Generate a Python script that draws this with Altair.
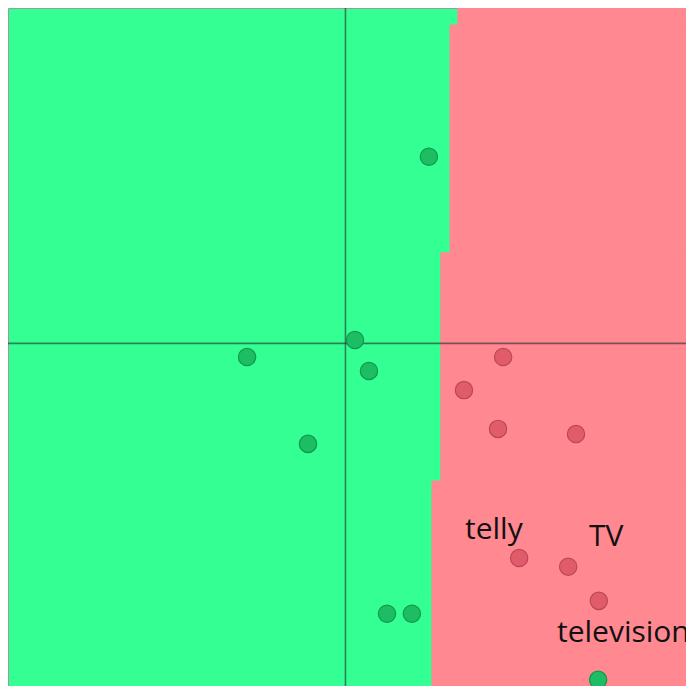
import altair as alt
import pandas as pd

# Points (data coordinates, axes cross at 0)
green_x = [0.245, 0.028, -0.289, 0.069, -0.110, 0.122, 0.195, 0.742]
green_y = [0.548, 0.010, -0.040, -0.081, -0.295, -0.794, -0.794, -0.988]
red_x = [0.463, 0.348, 0.448, 0.677, 0.510, 0.654, 0.744]
red_y = [-0.040, -0.137, -0.251, -0.266, -0.630, -0.656, -0.756]

# Labels
label_text = ["telly", "TV", "television"]
label_x = [0.351, 0.715, 0.621]
label_y = [-0.574, -0.596, -0.877]

# Decision boundary (stepped): band bottom, band top, boundary x
band_y1 = [0.935, 0.266, -0.404, -1.05]
band_y2 = [1.05, 0.935, 0.266, -0.404]
band_bx = [0.330, 0.307, 0.280, 0.254]

X_DOM = [-0.991, 1.0]
Y_DOM = [-1.006, 0.985]

xs = alt.Scale(domain=X_DOM, nice=False, zero=False)
ys = alt.Scale(domain=Y_DOM, nice=False, zero=False)

GREEN_BG = "#33FF93"
RED_BG = "#FF8891"

bands = pd.DataFrame({
    "y1": band_y1,
    "y2": band_y2,
    "x1": band_bx,
    "x2": [1.05] * 4,
})

bg = alt.Chart(bands).mark_rect(clip=True, fill=RED_BG, stroke=RED_BG, strokeWidth=1).encode(
    x=alt.X("x1:Q", scale=xs, axis=None),
    x2="x2:Q",
    y=alt.Y("y1:Q", scale=ys, axis=None),
    y2="y2:Q",
)

axes_df = pd.DataFrame({"v": [0.0]})
vrule = alt.Chart(axes_df).mark_rule(color="#2b2b2b", opacity=0.6, strokeWidth=1.6).encode(
    x=alt.X("v:Q", scale=xs, axis=None)
)
hrule = alt.Chart(axes_df).mark_rule(color="#2b2b2b", opacity=0.6, strokeWidth=1.6).encode(
    y=alt.Y("v:Q", scale=ys, axis=None)
)

pts = pd.DataFrame({
    "x": green_x + red_x,
    "y": green_y + red_y,
    "cls": ["g"] * len(green_x) + ["r"] * len(red_x),
})

points = alt.Chart(pts).mark_circle(size=300, opacity=1, clip=True, strokeWidth=1.2).encode(
    x=alt.X("x:Q", scale=xs, axis=None),
    y=alt.Y("y:Q", scale=ys, axis=None),
    fill=alt.Fill("cls:N", scale=alt.Scale(domain=["g", "r"], range=["#1CBD63", "#E05C6B"]), legend=None),
    stroke=alt.Stroke("cls:N", scale=alt.Scale(domain=["g", "r"], range=["#13964D", "#BD4656"]), legend=None),
)

labels_df = pd.DataFrame({"t": label_text, "x": label_x, "y": label_y})
labels = alt.Chart(labels_df).mark_text(
    align="left", baseline="alphabetic", font="Open Sans", fontSize=30, color="#111111", clip=True
).encode(
    x=alt.X("x:Q", scale=xs, axis=None),
    y=alt.Y("y:Q", scale=ys, axis=None),
    text="t:N",
)

chart = alt.layer(bg, vrule, hrule, points, labels).properties(
    width=678, height=678, padding=0, autosize=alt.AutoSizeParams(type="none")
).configure_view(fill=GREEN_BG, stroke="#9a9a9a", strokeWidth=1)

chart.save("out.html", embed_options={"renderer": "svg", "actions": False})
